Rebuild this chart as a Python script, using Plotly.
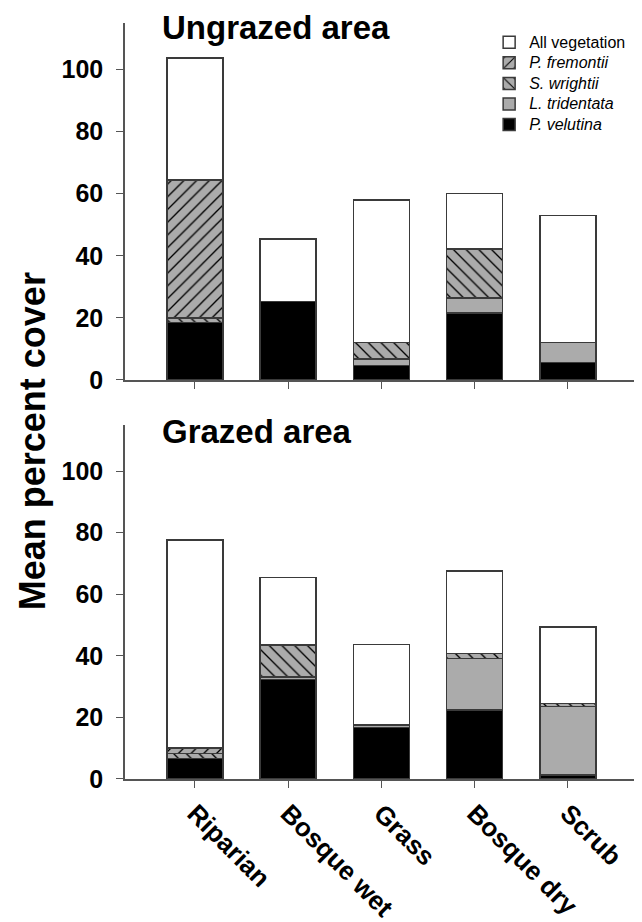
import plotly.graph_objects as go

# habitat categories (x axis)
categories = ['Riparian', 'Bosque wet', 'Grass', 'Bosque dry', 'Scrub']

# Ungrazed area, mean percent cover per species (stacked from the bottom)
velutinaUngrazed = [18.5, 25.3, 4.6, 21.5, 5.7]
tridentataUngrazed = [None, None, 2.2, 4.9, 6.3]
wrightiiUngrazed = [1.5, None, 5.2, 15.8, None]
fremontiiUngrazed = [44.5, None, None, None, None]
totalUngrazed = [103.8, 45.4, 58.0, 60.0, 53.0]

# Grazed area
velutinaGrazed = [6.7, 32.4, 16.7, 22.4, 1.3]
tridentataGrazed = [None, 0.8, 0.8, 16.8, 22.2]
wrightiiGrazed = [1.6, 10.3, None, 1.6, 1.1]
fremontiiGrazed = [1.7, None, None, None, None]
totalGrazed = [77.6, 65.4, 43.7, 67.5, 49.4]

yTicks = [0, 20, 40, 60, 80, 100]

FONT = 'Liberation Sans'
EDGE = '#3a3a3a'
GRAY = '#ababab'

def remainder(total, parts):
  out = []
  for i in range(len(total)):
    used = sum(p[i] or 0 for p in parts)
    out.append(total[i] - used)
  return out

def label(text, italic = True):
  # bigger text than the legend font so the rows stay tight
  if italic:
    text = f'<i>{text}</i>'
  return f'<span style="font-size:16px">{text}</span>'

def bar(values, name, color, pattern, axis, showlegend):
  marker = {'color': color, 'line': {'color': EDGE, 'width': 1.5}}
  if pattern:
    marker['pattern'] = {'shape': pattern, 'bgcolor': GRAY, 'fgcolor': 'black',
                         'size': 9, 'solidity': 0.15, 'fillmode': 'replace'}
  return go.Bar(
    x = categories,
    y = values,
    name = name,
    marker = marker,
    width = 0.6,
    xaxis = 'x' if axis == 1 else 'x2',
    yaxis = 'y' if axis == 1 else 'y2',
    showlegend = showlegend,
  )

def addPanel(fig, axis, vel, tri, wri, fre, total):
  first = axis == 1
  fig.add_trace(bar(vel, label('P. velutina'), 'black', None, axis, first))
  fig.add_trace(bar(tri, label('L. tridentata'), GRAY, None, axis, first))
  fig.add_trace(bar(wri, label('S. wrightii'), GRAY, '\\', axis, first))
  fig.add_trace(bar(fre, label('P. fremontii'), GRAY, '/', axis, first))
  fig.add_trace(bar(remainder(total, [vel, tri, wri, fre]), label('All vegetation', False), 'white', None, axis, first))

fig = go.Figure()
addPanel(fig, 1, velutinaUngrazed, tridentataUngrazed, wrightiiUngrazed, fremontiiUngrazed, totalUngrazed)
addPanel(fig, 2, velutinaGrazed, tridentataGrazed, wrightiiGrazed, fremontiiGrazed, totalGrazed)

axisLine = dict(showline = True, linecolor = '#555555', linewidth = 1.5, showgrid = False,
                zeroline = False, ticks = 'outside', tickcolor = '#555555', ticklen = 7,
                automargin = False)
tickFont = dict(family = FONT, size = 25, color = 'black', weight = 'bold')
xTickFont = dict(family = FONT, size = 26, color = 'black', weight = 'bold')

# page body has an 8px margin, so the figure is 8px smaller than the window
fig.update_layout(
  width = 634, height = 914,
  margin = dict(l = 117, r = 7, t = 15, b = 143),
  paper_bgcolor = 'white', plot_bgcolor = 'white',
  barmode = 'stack',
  bargap = 0.4,
  xaxis = dict(domain = [0, 1], anchor = 'y', range = [-0.75, 4.72], showticklabels = False, **axisLine),
  yaxis = dict(domain = [0.5278, 1], anchor = 'x', range = [0, 115], tickvals = yTicks,
               mirror = True, tickfont = tickFont, ticklabelstandoff = 8, **axisLine),
  xaxis2 = dict(domain = [0, 1], anchor = 'y2', range = [-0.75, 4.72], tickangle = 45,
                tickfont = xTickFont, **axisLine),
  yaxis2 = dict(domain = [0, 0.4683], anchor = 'x2', range = [0, 115], tickvals = yTicks,
                mirror = True, tickfont = tickFont, ticklabelstandoff = 8, **axisLine),
  legend = dict(
    x = 0.714, y = 0.9947, xanchor = 'left', yanchor = 'top',
    traceorder = 'reversed',
    font = dict(family = FONT, size = 13.5, color = 'black'),
    bgcolor = 'rgba(0,0,0,0)',
    tracegroupgap = 0,
    itemwidth = 30,
  ),
  font = dict(family = FONT),
)

fig.add_annotation(text = 'Ungrazed area', xref = 'paper', yref = 'paper', x = 0.0686, y = 0.9947,
                   xanchor = 'left', yanchor = 'middle', showarrow = False,
                   font = dict(family = FONT, size = 33, color = 'black', weight = 'bold'))
fig.add_annotation(text = 'Grazed area', xref = 'paper', yref = 'paper', x = 0.0686, y = 0.460,
                   xanchor = 'left', yanchor = 'middle', showarrow = False,
                   font = dict(family = FONT, size = 33, color = 'black', weight = 'bold'))
fig.add_annotation(text = 'Mean percent cover', xref = 'paper', yref = 'paper', x = -0.182, y = 0.447,
                   xanchor = 'center', yanchor = 'middle', textangle = -90, showarrow = False,
                   font = dict(family = FONT, size = 36, color = 'black', weight = 'bold'))

fig.write_html('out.html')
